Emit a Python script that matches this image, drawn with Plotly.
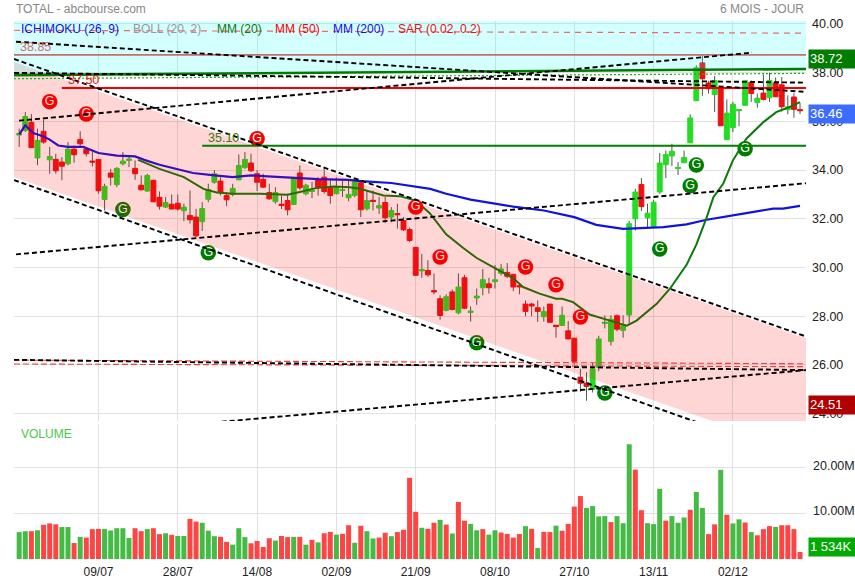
import plotly.graph_objects as go

W, H = 855, 580

# ---------- data ----------
opens = [35.44,35.63,35.96,34.5,35.59,34.42,34.44,34.33,34.26,34.86,35.26,34.86,34.37,34.44,32.79,33.88,33.4,34.26,34.4,34.07,
33.38,33.14,33.58,32.88,32.48,32.6,32.64,32.33,32.14,32.07,31.88,32.8,33.5,33.55,32.96,33.0,33.6,34.1,34.29,33.85,
33.62,33.08,32.7,32.6,32.75,32.59,33.88,33.03,33.12,33.6,33.71,33.3,33.03,33.16,32.86,32.96,33.48,32.41,32.76,32.44,
32.67,32.07,32.21,31.93,31.56,30.83,29.86,29.88,29.05,28.72,28.24,29.0,28.14,29.58,28.16,28.75,29.17,29.33,29.42,29.76,
29.8,29.72,29.25,28.5,28.5,28.35,27.98,28.5,27.63,27.62,27.4,27.1,25.5,25.26,25.0,25.9,27.71,26.97,28.02,27.42,
28.05,32.0,33.41,32.04,31.68,33.1,34.22,34.58,34.07,34.3,35.12,36.85,38.4,37.58,37.1,37.37,35.25,35.74,36.44,36.66,
37.6,36.77,37.16,36.97,37.58,37.5,36.48,37.0,36.48]
highs = [35.7,36.38,36.3,35.7,36.08,34.95,34.67,34.53,35.15,35.01,35.59,34.95,34.74,34.44,33.44,34.05,34.12,34.74,34.6,34.4,
33.78,33.85,33.6,33.12,32.89,33.0,33.0,32.62,33.16,32.41,32.68,33.44,34.0,33.7,33.1,33.44,34.64,34.74,34.67,34.0,
33.85,33.44,33.3,32.96,33.03,33.71,34.19,33.44,33.52,33.71,34.12,33.64,33.7,33.55,33.64,33.64,33.58,33.16,33.16,32.9,
32.9,32.48,32.62,32.07,31.64,30.83,30.56,30.3,29.76,28.86,28.9,29.1,29.76,29.7,28.4,29.14,29.94,29.58,30.1,30.14,
30.18,29.72,29.35,28.65,28.56,28.65,28.4,28.5,27.63,28.4,27.8,27.1,25.84,25.7,26.1,27.2,28.04,28.04,28.07,28.04,
31.92,33.23,33.67,32.62,32.78,34.7,34.8,35.08,34.33,34.8,36.29,38.3,38.75,37.66,37.86,37.37,36.9,36.8,36.48,37.7,
37.68,37.14,37.93,37.99,37.8,37.82,37.07,37.16,36.75]
lows = [34.95,35.56,34.92,34.2,35.08,33.85,33.85,33.58,34.19,34.3,34.95,34.56,34.15,33.03,32.34,33.37,33.3,34.19,34.12,33.6,
33.16,33.1,32.7,32.38,32.45,32.4,32.34,31.9,31.8,31.25,31.5,32.68,33.44,32.96,32.52,32.92,33.58,34.05,33.92,33.14,
33.27,32.78,32.62,32.4,32.14,32.56,33.19,32.96,32.85,32.95,33.03,32.62,33.0,32.9,32.72,32.89,32.07,32.34,32.34,32.2,
31.82,31.86,31.6,31.5,31.04,29.68,29.58,29.62,28.9,27.86,28.2,28.24,28.08,28.3,27.78,28.47,28.86,28.93,29.14,29.67,
29.56,29.03,28.9,28.0,28.0,27.77,27.78,27.75,27.12,27.6,27.04,26.02,24.9,24.53,24.87,25.74,27.5,26.8,27.38,27.12,
27.7,31.52,32.32,31.66,31.66,33.03,33.67,34.16,33.8,34.29,35.12,36.85,37.05,37.14,36.38,35.82,35.25,35.56,35.8,36.64,
36.8,36.56,36.86,36.8,37.0,36.4,36.29,36.15,36.3]
closes = [35.5,36.2,34.92,35.22,35.15,34.56,33.97,34.16,34.86,34.63,35.08,34.67,34.33,33.15,33.33,33.71,34.07,34.37,34.45,33.85,
33.19,33.78,32.7,32.52,32.67,32.4,32.4,32.48,31.96,31.3,32.42,33.2,33.85,33.1,32.78,33.25,34.19,34.44,33.97,33.5,
33.3,32.82,33.08,32.55,32.37,33.64,33.27,33.38,33.17,33.27,33.12,32.95,33.3,33.2,33.0,33.53,32.37,32.75,32.72,32.55,
32.04,32.34,32.17,31.55,31.11,29.68,29.92,29.7,29.0,28.03,28.8,28.28,29.2,28.33,28.21,28.83,29.5,29.17,29.5,29.94,
29.64,29.2,29.21,28.2,28.42,28.2,28.2,27.75,27.58,28.04,27.07,26.15,25.25,25.12,25.84,27.07,27.75,27.88,27.47,27.62,
31.8,33.1,32.5,32.23,32.68,34.29,34.64,34.77,34.11,34.52,36.14,38.2,37.75,37.34,37.68,35.82,36.34,36.7,36.48,37.68,
37.14,36.95,36.9,37.68,37.01,36.6,36.6,36.49,36.44]
volumes = [5.9,6.1,6.1,6.3,7.5,7.8,7.6,7.0,7.0,3.5,4.85,4.7,6.55,6.6,6.6,6.25,6.75,6.75,4.6,6.75,
6.1,6.55,6.75,5.45,5.65,5.3,5.05,5.05,8.8,8.2,7.95,6.2,5.0,4.85,3.75,3.15,6.75,4.8,3.45,3.95,
2.65,4.55,4.05,5.05,4.8,4.85,4.85,3.15,4.2,3.65,5.65,5.95,5.35,5.5,7.4,3.55,7.3,6.1,4.5,4.7,
5.75,5.0,5.9,6.4,17.8,10.35,6.85,6.6,7.95,8.6,7.55,5.6,12.5,8.4,7.7,6.3,6.55,5.35,6.3,5.8,
5.5,4.7,5.5,7.2,6.6,2.4,5.95,5.9,7.3,6.2,7.7,11.5,13.8,11.2,11.6,9.35,9.4,8.1,9.4,7.85,
25.15,19.6,10.7,7.85,7.65,15.4,8.4,9.4,7.95,9.1,10.8,14.7,11.2,5.45,7.6,19.55,9.7,7.8,8.7,8.0,
5.9,5.2,6.55,7.2,7.05,7.4,7.4,6.55,1.53]
volume_sides = ("GGRGRRRGGRGRRRGGGGGRRGRRGRGGRRGGGRRGGGRRRRGRRGRGRGRRGRRGRGGRRGRRRRGR"
                "RGRGRRGGRGGRRRRGRGRRGRRRRGGGGRGGGRRGGGRGGGRGGRRGRGGRGRRRGRRRR")
dates_idx = [13,26,39,52,65,78,91,104,117]
date_labels = ["09/07","28/07","14/08","02/09","21/09","08/10","27/10","13/11","02/12"]
volume_ticks = [0,10,20]
volume_tick_labels = ["0.00M","10.00M","20.00M"]

mm200_idx = [0,1,2.3,4,5,6.4,8,10.5,13,16,19,20.5,23,26,28.5,32,35,38,41,45,49,54,56,61,67.4,70,74,81,86,91,94.6,99,105.6,109.4,112.7,119.2,123.6,125.2,128]
mm200_val = [35.47,35.84,35.52,35.38,35.25,35.01,34.95,34.95,34.7,34.59,34.56,34.42,34.22,34.05,33.88,33.78,33.71,33.78,33.74,33.67,33.63,33.6,33.55,33.47,33.23,33.03,32.79,32.5,32.34,32.07,31.75,31.59,31.66,31.77,31.96,32.23,32.42,32.42,32.53]
mm20_idx = [19.5,23,27,30.2,32.4,35,39.5,44,46,48.8,51.5,54.2,55.9,59.7,62.4,65,67.3,70,72.8,75,78.2,81,82.6,85.3,88,89,90.8,93.5,96.3,99.6,101.2,104.5,106.7,109.4,111,112.7,113.8,115.4,117,119.2,122,124.1,126.3,128]
mm20_val = [34.42,34.05,33.71,33.23,33.08,33.03,33.03,32.99,33.1,33.27,33.33,33.3,33.23,32.96,32.93,32.75,32.23,31.36,30.8,30.39,29.94,29.56,29.2,28.93,28.72,28.72,28.58,28.07,27.86,27.61,27.82,28.51,29.14,30.11,30.94,32.06,32.89,33.44,34.4,35.29,35.97,36.38,36.59,36.79]

red_g_idx = [5,11,39,65,69,83,88,92]
red_g_val = [36.81,36.30,35.29,32.48,30.43,30.02,29.29,27.97]
green_g_idx = [17,31,75,96,105,110,111,119]
green_g_val = [32.38,30.61,26.91,24.85,30.76,33.36,34.21,34.88]

X0, X1 = -0.85, 128.98          # horizontal extent of the plot
Y0, Y1 = 23.7, 40.12            # vertical extent of the price panel

trend_lines = [                 # (x start, y start, x end, y end)
    (-0.52,39.27,X1,37.21),
    (X0,38.56,X1,27.17),
    (-0.03,36.03,120.13,38.82),
    (-0.52,30.54,X1,33.46),
    (X0,33.59,111.1,23.65),
    (33.2,23.67,X1,25.79),
    (X0,26.21,X1,25.79),
    (X0,37.99,X1,37.59),
]
channel_x = [X0,X1,X1,113.6,X0]
channel_y = [38.44,27.1,Y0,Y0,33.72]
cloud_x = [X0,X1,X1,X0]
cloud_y = [Y1,Y1,38.15,37.9]
span_x = [X0,X1]
thick_green_y = [37.9,38.15]
dotted_green_y = [37.75,37.97]
sar_y = [39.74,39.62]
boll_up_y = [26.2,26.05]
boll_lo_y = [26.04,25.93]
levels = [("38.85",38.73,X0,"#cb6b6b",1.9,"#d96a6a"),("37.50",37.37,7.0,"#f00000",2,"#e81010"),("35.10",35.0,30.0,"#008000",2,"#3c7a14")]
badges = [("38.72",38.72,"y","#007d00"),("36.46",36.46,"y","#3c6cff"),("24.51",24.51,"y","#b00000"),("1 534K",1.534,"y2","#00aa00")]

legend_items = [("ICHIMOKU (26, 9)",19,"#1010e8"),("BOLL (20, 2)",131,"#999999"),("MM (20)",215,"#0a7a0a"),("MM (50)",273,"#ff0000"),("MM (200)",331,"#1010e8"),("SAR (0.02, 0.2)",396,"#f01010")]

FONT = "Liberation Sans, Arial, sans-serif"
idx = list(range(len(closes)))
fig = go.Figure()

# wicks, then bodies on top
mids = [(o + c) / 2 for o, c in zip(opens, closes)]
wick = dict(line=dict(color="#555555", width=1), fillcolor="#555555")
fig.add_trace(go.Candlestick(x=idx, open=mids, close=mids, high=highs, low=lows, whiskerwidth=0,
                             increasing=wick, decreasing=wick, hoverinfo="skip", showlegend=False))
fig.add_trace(go.Candlestick(x=idx, open=opens, close=closes,
                             high=[max(o, c) for o, c in zip(opens, closes)],
                             low=[min(o, c) for o, c in zip(opens, closes)], whiskerwidth=0,
                             increasing=dict(line=dict(color="#22dd22", width=1), fillcolor="#22dd22"),
                             decreasing=dict(line=dict(color="#ee1111", width=1), fillcolor="#ee1111"),
                             hoverinfo="skip", showlegend=False))

def line(x, y, color, width, dash="solid", mode="lines"):
    fig.add_trace(go.Scatter(x=x, y=y, mode=mode, line=dict(color=color, width=width, dash=dash),
                             hoverinfo="skip", showlegend=False))

line(mm200_idx, mm200_val, "#1212dd", 2.2)
line(mm20_idx, mm20_val, "#0a7a0a", 2)

for xs, ys, col in [(red_g_idx, red_g_val, "#f80000"), (green_g_idx, green_g_val, "#007d00")]:
    fig.add_trace(go.Scatter(x=xs, y=ys, mode="markers+text", text=["G"] * len(xs), textposition="middle center",
                             textfont=dict(color="white", size=12.5, family=FONT),
                             marker=dict(color=col, size=15.5, line=dict(width=0)), hoverinfo="skip", showlegend=False))

# translucent zones laid over the candles
fig.add_trace(go.Scatter(x=channel_x, y=channel_y, mode="lines", fill="toself", fillcolor="rgba(255,0,0,0.16)",
                         line=dict(width=0), hoverinfo="skip", showlegend=False))
fig.add_trace(go.Scatter(x=cloud_x, y=cloud_y, mode="lines", fill="toself", fillcolor="rgba(0,255,255,0.17)",
                         line=dict(width=0), hoverinfo="skip", showlegend=False))

line(span_x, thick_green_y, "#007a00", 2.6)
line(span_x, dotted_green_y, "#22aa22", 1.2, "2px,2px")
line(span_x, sar_y, "#ee6a6a", 1.2, "6px,5px")
line(span_x, boll_up_y, "#f04040", 1.1, "6px,3px")
line(span_x, boll_lo_y, "#f04040", 1.1, "6px,3px")

for label, val, xs, col, w, tc in levels:
    line([xs, X1], [val, val], col, w)
    fig.add_annotation(x=xs, y=val, xref="x", yref="y", text=label, showarrow=False, xanchor="left", yanchor="bottom",
                       xshift=4, yshift=-1, font=dict(color=tc, size=12.5, family=FONT))

for x0, y0, x1, y1 in trend_lines:
    line([x0, x1], [y0, y1], "#000000", 1.9, "5px,3px")

# volume
fig.add_trace(go.Bar(x=idx, y=volumes, xaxis="x2", yaxis="y2", width=0.82,
                     marker=dict(color=["#44bb44" if s == "G" else "#ff4444" for s in volume_sides], line=dict(width=0)),
                     hoverinfo="skip", showlegend=False))

def txt(text, x, y, color, anchor="left", size=12):
    fig.add_annotation(x=x / W, y=1 - y / H, xref="paper", yref="paper", text=text, showarrow=False,
                       xanchor=anchor, yanchor="middle", xshift=0, font=dict(color=color, size=size, family=FONT))

txt("TOTAL - abcbourse.com", 14, 9, "#888888")
txt("6 MOIS - JOUR", 806, 9, "#888888", "right")
for t, x, c in legend_items:
    txt(t, x, 29, c)
txt("VOLUME", 19, 433.5, "#48c848")

# volume axis labels sit a little above their gridlines; 0.00M is nearly hidden by the last-volume badge
for val, label in zip(volume_ticks, volume_tick_labels):
    fig.add_annotation(x=811 / W, xref="paper", y=val, yref="y2", text=label, showarrow=False, xanchor="left", yanchor="middle",
                       yshift=7 if val == 0 else 2, font=dict(color="#222222", size=12.5, family=FONT))

for label, val, yref, col in badges:
    fig.add_annotation(x=808 / W, xref="paper", y=val, yref=yref, text=label, showarrow=False, xanchor="left", yanchor="middle",
                       width=47, height=15.5, align="left", bgcolor=col, borderpad=1, yshift=-4 if yref == "y" else 5.5,
                       font=dict(color="white", size=13, family=FONT))

grid = "#e2e2e2"
xcommon = dict(domain=[14 / W, 806 / W], range=[X0, X1], tickvals=dates_idx, showgrid=True, gridcolor=grid, gridwidth=1,
               zeroline=False, showline=False, ticks="")
fig.update_layout(
    width=W, height=H, margin=dict(l=0, r=0, t=0, b=0, autoexpand=False), paper_bgcolor="white", plot_bgcolor="white",
    barmode="overlay", boxgap=0.2, boxgroupgap=0.0, showlegend=False, font=dict(family=FONT, size=12, color="#222222"),
    xaxis=dict(xcommon, anchor="y", showticklabels=False, rangeslider=dict(visible=False)),
    xaxis2=dict(xcommon, anchor="y2", matches="x", ticktext=date_labels, showticklabels=True, ticklabelstandoff=4,
                tickfont=dict(size=12, family=FONT, color="#222222")),
    yaxis=dict(domain=[1 - 421 / H, 1 - 21 / H], range=[Y0, Y1], side="right", anchor="x", dtick=2, tick0=24, tickformat=".2f",
               showgrid=True, gridcolor=grid, zeroline=False, ticks="", ticklabelstandoff=5,
               tickfont=dict(size=12.5, family=FONT, color="#222222")),
    yaxis2=dict(domain=[1 - 559 / H, 1 - 424 / H], range=[0, 29.6], side="right", anchor="x2", tickvals=volume_ticks,
                showticklabels=False, showgrid=True, gridcolor=grid, zeroline=False, ticks=""),
)

fig.write_html("out.html", post_script="document.body.style.margin='0';", config={"displayModeBar": False})
